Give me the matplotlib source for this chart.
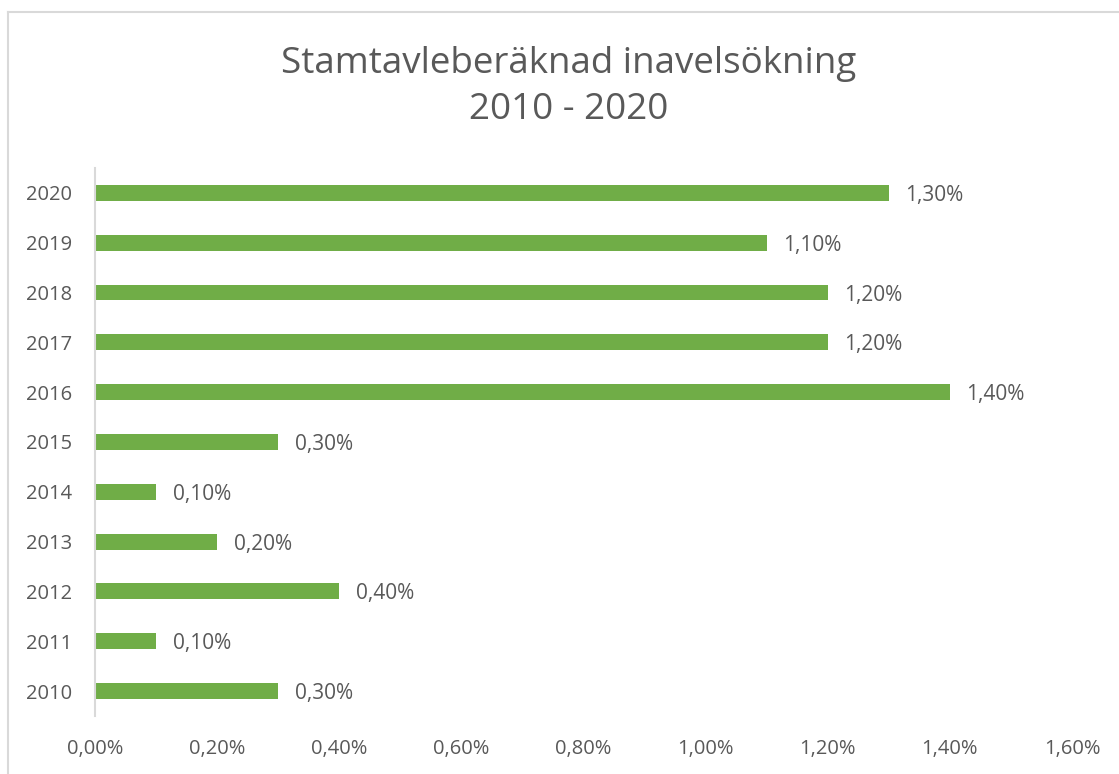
import matplotlib.pyplot as plt
from matplotlib.lines import Line2D

# data (percent)
years = ['2010', '2011', '2012', '2013', '2014', '2015', '2016', '2017', '2018', '2019', '2020']
inbreeding = [0.30, 0.10, 0.40, 0.20, 0.10, 0.30, 1.40, 1.20, 1.20, 1.10, 1.30]
xticks = [0.0, 0.2, 0.4, 0.6, 0.8, 1.0, 1.2, 1.4, 1.6]

plt.rcParams['font.family'] = ['Open Sans', 'DejaVu Sans']
text_col = '#595959'

fig = plt.figure(figsize=(11.19, 7.74), dpi=100)
ax = fig.add_axes([0.0849, 0.0749, 0.958 - 0.0849, 0.783 - 0.0749])

pos = range(len(years))
ax.barh(pos, inbreeding, height=0.32, color='#70AD47')

for p, v in zip(pos, inbreeding):
    ax.text(v + 0.027, p - 0.05, f'{v:.2f}%'.replace('.', ','), va='center', ha='left',
            fontsize=15, color=text_col)

ax.set_xlim(0, 1.6)
ax.set_ylim(-0.5, len(years) - 0.5)
ax.set_yticks(list(pos))
ax.set_yticklabels(years, fontsize=14.5, color=text_col)
ax.set_xticks(xticks)
ax.set_xticklabels([f'{t:.2f}%'.replace('.', ',') for t in xticks], fontsize=14.5, color=text_col)
ax.tick_params(length=0)
ax.tick_params(axis='x', pad=16.5)
ax.tick_params(axis='y', pad=16.5)

for s in ['top', 'right', 'bottom']:
    ax.spines[s].set_visible(False)
ax.spines['left'].set_color('#D9D9D9')
ax.spines['left'].set_linewidth(1.5)

fig.text(569 / 1119, 1 - 64 / 774, 'Stamtavleberäknad inavelsökning', ha='center', va='center',
         fontsize=26.5, color=text_col)
fig.text(569 / 1119, 1 - 110 / 774, '2010 - 2020', ha='center', va='center',
         fontsize=26.5, color=text_col)

# chart border (only top and left are visible in the crop)
fig.add_artist(Line2D([8 / 1119, 1], [1 - 11.5 / 774, 1 - 11.5 / 774], color='#D9D9D9', lw=1.5))
fig.add_artist(Line2D([8 / 1119, 8 / 1119], [0, 1 - 11.5 / 774], color='#D9D9D9', lw=1.5))

fig.savefig('out.png', dpi=100)
